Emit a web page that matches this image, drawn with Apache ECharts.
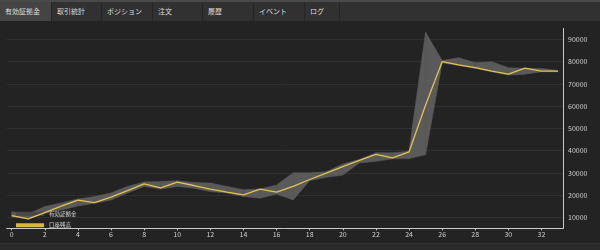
<!DOCTYPE html>
<html><head><meta charset="utf-8">
<script src="https://cdn.jsdelivr.net/npm/echarts@6/dist/echarts.min.js"></script>
<style>
html,body{margin:0;padding:0;background:#232323;}
#wrap{position:relative;width:600px;height:250px;overflow:hidden;background:#232323;}
#tabs{position:absolute;left:0;top:0;width:600px;height:21px;background:#313131;border-top:2px solid #4a4a4a;box-sizing:border-box;font-family:"Noto Sans CJK JP",sans-serif;font-size:7px;color:#dcdcdc;}
.tab{position:absolute;top:0;height:19px;line-height:19px;padding-left:5px;box-sizing:border-box;border-right:1px solid #242424;}
.tab.active{background:#444;}
#chart{position:absolute;left:0;top:0;width:600px;height:250px;}
#bottom{position:absolute;left:0;top:243px;width:600px;height:7px;background:#2a2a2a;border-top:1px solid #333;}
</style></head>
<body><div id="wrap"><div id="chart"></div><div id="bottom"></div><div id="tabs"></div></div>
<script>
const tabLabels = ["有効証拠金","取引統計","ポジション","注文","履歴","イベント","ログ"];
const xValues = [0,1,2,3,4,5,6,7,8,9,10,11,12,13,14,15,16,17,18,19,20,21,22,23,24,25,26,27,28,29,30,31,32,33];
const balance = [10700,9300,12100,15000,17700,16600,19100,22000,25000,23200,25800,24300,22700,21300,20100,22700,21300,23900,27000,29900,32800,35600,38300,36700,39400,60500,80000,78600,77300,75800,74400,77100,75800,75800];
const marginLow  = [10300,9300,11800,13300,15100,16300,17800,20900,23900,22700,23900,23100,21600,20900,19400,18600,20500,17800,26500,28000,29000,34400,35200,36300,36400,38200,79500,78300,77000,75500,74000,74400,75500,75500];
const marginHigh = [12500,11500,14800,16400,18200,19300,20900,23900,25900,26100,26400,25700,25400,23900,22400,22700,24500,30000,30000,30500,34000,36000,39000,39000,39700,93300,80500,81800,79500,80000,77300,77000,77000,76000];
const xTickLabels = [0,2,4,6,8,10,12,14,16,18,20,22,24,26,28,30,32];
const yTickLabels = [10000,20000,30000,40000,50000,60000,70000,80000,90000];

// tabs
const tabLefts = [0,52,102,153,203,254,305];
const tabWidths = [52,50,51,50,51,51,35];
const tabsEl = document.getElementById('tabs');
tabLabels.forEach((t,i)=>{
  const d=document.createElement('div');
  d.className='tab'+(i===0?' active':'');
  d.style.left=tabLefts[i]+'px';d.style.width=tabWidths[i]+'px';
  d.textContent=t;tabsEl.appendChild(d);
});

const bandData = xValues.map((x,i)=>[x, marginLow[i], marginHigh[i]]);
const balData = xValues.map((x,i)=>[x, balance[i]]);
const BAND = '#5a5a5a';

const chart = echarts.init(document.getElementById('chart'), null, {renderer:'canvas'});
chart.setOption({
  backgroundColor:'#232323',
  animation:false,
  textStyle:{fontFamily:'"Noto Sans CJK JP", sans-serif'},
  grid:{left:6.7, right:37, top:28.4, bottom:21.6, containLabel:false},
  legend:{
    orient:'vertical', left:11, top:206, itemWidth:28, itemHeight:4, itemGap:6,
    textStyle:{color:'#d8d8d8', fontSize:5.5},
    data:[{name:'有効証拠金', icon:'rect', itemStyle:{color:'#474747'}},{name:'口座残高', icon:'rect', itemStyle:{color:'#d9b83a'}}]
  },
  xAxis:{
    type:'value', min:-0.3, max:33.3,
    axisLine:{show:true, onZero:false, lineStyle:{color:'#c8c8c8', width:1}},
    axisTick:{show:true, length:2, lineStyle:{color:'#c8c8c8'}, customValues:xTickLabels},
    axisLabel:{color:'#cfcfcf', fontSize:7, margin:2, customValues:xTickLabels},
    splitLine:{show:false}
  },
  yAxis:{
    type:'value', position:'right', min:5000, max:95000,
    axisLine:{show:true, onZero:false, lineStyle:{color:'#c8c8c8', width:1}},
    axisTick:{show:false, customValues:yTickLabels},
    axisLabel:{color:'#cfcfcf', fontSize:7, margin:5, customValues:yTickLabels, formatter:v=>String(v)},
    splitLine:{show:true, lineStyle:{color:'#303030', width:1}}
  },
  series:[
    {name:'有効証拠金', type:'custom', data:bandData, itemStyle:{color:'#474747'},
     encode:{x:0, y:[1,2]},
     renderItem:function(params, api){
       const i = params.dataIndex;
       if (i >= bandData.length-1) return null;
       const a = bandData[i], b = bandData[i+1];
       const pts = [api.coord([a[0],a[1]]), api.coord([b[0],b[1]]), api.coord([b[0],b[2]]), api.coord([a[0],a[2]])];
       return {type:'polygon', shape:{points:pts}, style:{fill:BAND, stroke:BAND, lineWidth:0.6}};
     }},
    {name:'口座残高', type:'line', data:balData, symbol:'none', z:5, lineStyle:{color:'#e3c24e', width:1.3}, itemStyle:{color:'#d9b83a'}}
  ]
});
</script></body></html>
